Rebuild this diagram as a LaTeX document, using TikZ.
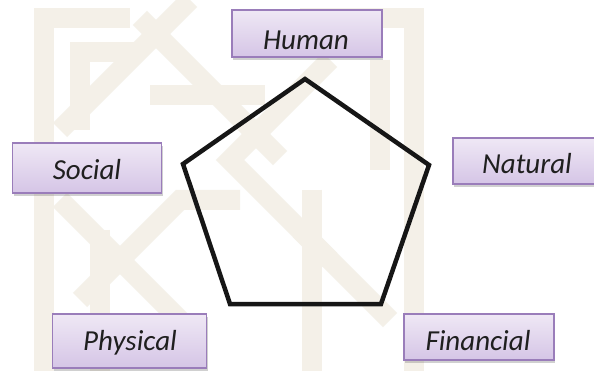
\documentclass[tikz,border=0pt]{standalone}
\usepackage{fontspec}
\setmainfont{Carlito}
\usetikzlibrary{shadows}
\definecolor{wm}{HTML}{F4F0E8}
\definecolor{boxtop}{HTML}{EFE8F5}
\definecolor{boxbot}{HTML}{D5C5E6}
\definecolor{boxline}{HTML}{9A7DBA}
\definecolor{penta}{HTML}{161616}
\tikzset{
  capbox/.style={rectangle, draw=boxline, line width=1.3pt, top color=boxtop, bottom color=boxbot,
     drop shadow={shadow xshift=1pt, shadow yshift=-3pt, opacity=0.3, fill=black!60}, inner sep=0pt},
  captext/.style={font=\fontsize{29}{31}\selectfont\itshape, text=black!88, anchor=base, inner sep=0pt},
  band/.style={line width=20pt, draw=wm, line cap=butt},
}
\begin{document}
\begin{tikzpicture}[x=1pt,y=-1pt]
\useasboundingbox (0,0) rectangle (594,371);
\clip (0,0) rectangle (594,371);
\fill[white] (0,0) rectangle (594,371);
% faint watermark pattern
\draw[band] (44,371) -- (44,18) -- (130,18);
\draw[band] (300,18) -- (414,18) -- (414,371);
\draw[band] (80,130) -- (80,52) -- (140,52);
\draw[band] (190,0) -- (60,130);
\draw[band] (140,18) -- (280,158);
\draw[band] (150,95) -- (265,95);
\draw[band] (330,60) -- (230,160) -- (330,260);
\draw[band] (60,200) -- (200,340);
\draw[band] (80,300) -- (180,200) -- (240,200);
\draw[band] (300,230) -- (390,320);
\draw[band] (312,190) -- (312,371);
\draw[band] (380,60) -- (380,170);
\draw[band] (100,230) -- (100,371);
% pentagon
\coordinate (pt) at (305,79);
\coordinate (pr) at (429,165);
\coordinate (pbr) at (381,304);
\coordinate (pbl) at (230,304);
\coordinate (pl) at (183,164);
\draw[penta, line width=4.5pt, line join=miter] (pt) -- (pr) -- (pbr) -- (pbl) -- (pl) -- cycle;
% boxes
\node[capbox, minimum width=150pt, minimum height=47pt] (human) at (307,33.5) {};
\node[captext] (humant) at (306,50) {Human};
\node[capbox, minimum width=149pt, minimum height=50pt] (social) at (87.2,168) {};
\node[captext] (socialt) at (87,180) {Social};
\node[capbox, minimum width=150pt, minimum height=46pt] (natural) at (528,161) {};
\node[captext] (naturalt) at (527,174) {Natural};
\node[capbox, minimum width=154pt, minimum height=54pt] (physical) at (129.7,341) {};
\node[captext] (physicalt) at (130,350) {Physical};
\node[capbox, minimum width=150pt, minimum height=46pt] (financial) at (479,337) {};
\node[captext] (financialt) at (478,350) {Financial};
\end{tikzpicture}
\end{document}
